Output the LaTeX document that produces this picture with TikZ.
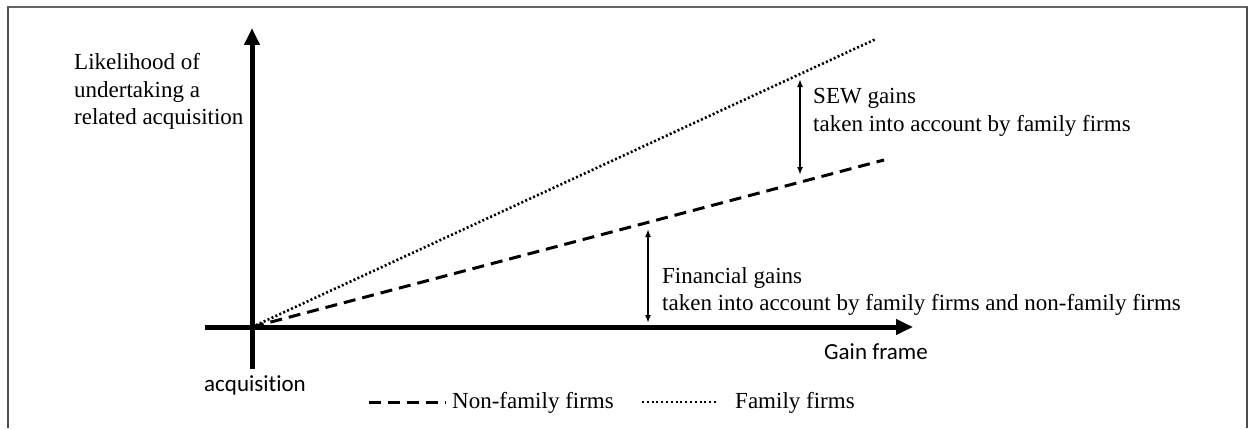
\documentclass[tikz,border=0pt]{standalone}
\usepackage{fontspec}
\setmainfont{Liberation Serif}
\newfontfamily\calib[Ligatures=NoCommon]{Carlito}
\usetikzlibrary{arrows.meta}
\begin{document}
\begin{tikzpicture}[x=1pt,y=-1pt,
  axisline/.style={line width=5pt,-{Triangle[width=15pt,length=17pt]}},
  gaparrow/.style={line width=1.6pt,{Latex[length=8pt,width=6pt]}-{Latex[length=8pt,width=6pt]}},
  nfline/.style={line width=3pt,dash pattern=on 12pt off 7pt},
  fline/.style={line width=2.6pt,dash pattern=on 2pt off 2.3pt},
  serif/.style={font=\fontsize{23}{27}\selectfont,inner sep=0pt,anchor=base west},
  sans/.style={font=\calib\fontsize{23}{27}\selectfont,inner sep=0pt,anchor=base west}]
\useasboundingbox (0,0) rectangle (1249,428);
% frame
\draw[line width=2pt,black!60] (7,7) -- (1248,7);
\draw[line width=1.2pt,black!70] (8,428) -- (8,7);
\draw[line width=1.2pt,black!70] (1247,7) -- (1247,428);
% coordinates
\coordinate (O) at (252,327);
\coordinate (ytop) at (252,28);
\coordinate (ybot) at (252,369);
\coordinate (xleft) at (205,327);
\coordinate (xtip) at (913,327);
\coordinate (dotend) at (876,39);
\coordinate (dashend) at (884,160);
\coordinate (sewtop) at (800,79);
\coordinate (sewbot) at (800,175);
\coordinate (fintop) at (648,229);
\coordinate (finbot) at (648,323);
% curves
\draw[fline] (O) -- (dotend);
\draw[nfline] (O) -- (dashend);
% axes
\draw[axisline] (ybot) -- (ytop);
\draw[axisline] (xleft) -- (xtip);
% gap arrows
\draw[gaparrow] (sewtop) -- (sewbot);
\draw[gaparrow] (fintop) -- (finbot);
% labels
\node[serif] (yl1) at (74,70) {Likelihood of};
\node[serif] (yl2) at (74,97) {undertaking a};
\node[serif] (yl3) at (74,124) {related acquisition};
\node[serif] (sew1) at (813,103) {SEW gains};
\node[serif] (sew2) at (813,131) {taken into account by family firms};
\node[serif] (fin1) at (662,283) {Financial gains};
\node[serif] (fin2) at (662,310) {taken into account by family firms and non-family firms};
\node[sans] (gain) at (824,359) {Gain frame};
\node[sans] (acq) at (204,391) {acquisition};
% legend
\coordinate (l1a) at (369,402);
\coordinate (l1b) at (446,402);
\coordinate (l2a) at (642,402);
\coordinate (l2b) at (717,402);
\draw[line width=3pt,dash pattern=on 12pt off 7pt] (l1a) -- (l1b);
\draw[line width=2.4pt,dash pattern=on 2pt off 2.8pt] (l2a) -- (l2b);
\node[serif] (leg1) at (452,408) {Non-family firms};
\node[serif] (leg2) at (735,408) {Family firms};
\end{tikzpicture}
\end{document}
